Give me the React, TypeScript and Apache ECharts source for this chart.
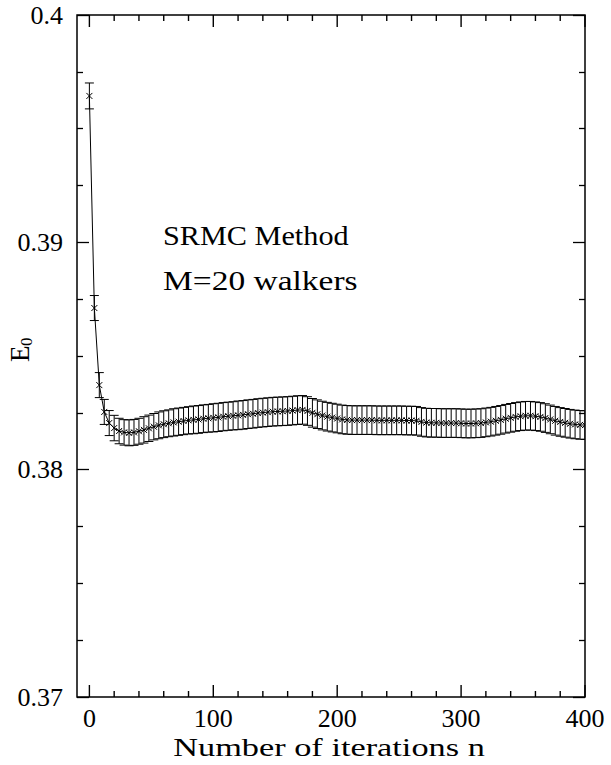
import React, { useEffect, useRef } from "react";
import * as echarts from "echarts";

const iterations = [
  0, 4, 8, 12, 16, 20, 24, 28, 32, 36, 40, 44, 48, 52, 56, 60, 64, 68, 72, 76,
  80, 84, 88, 92, 96, 100, 104, 108, 112, 116, 120, 124, 128, 132, 136, 140,
  144, 148, 152, 156, 160, 164, 168, 172, 176, 180, 184, 188, 192, 196, 200,
  204, 208, 212, 216, 220, 224, 228, 232, 236, 240, 244, 248, 252, 256, 260,
  264, 268, 272, 276, 280, 284, 288, 292, 296, 300, 304, 308, 312, 316, 320,
  324, 328, 332, 336, 340, 344, 348, 352, 356, 360, 364, 368, 372, 376, 380,
  384, 388, 392, 396, 400,
];

const energies = [
  0.39644, 0.38711, 0.38372, 0.38254, 0.38205, 0.38183, 0.3817, 0.38164,
  0.38162, 0.38164, 0.38169, 0.38175, 0.38182, 0.38189, 0.38195, 0.382,
  0.38204, 0.38208, 0.38211, 0.38214, 0.38217, 0.38219, 0.38221, 0.38224,
  0.38226, 0.38228, 0.3823, 0.38233, 0.38235, 0.38237, 0.38239, 0.38241,
  0.38244, 0.38246, 0.38249, 0.38251, 0.38253, 0.38255, 0.38256, 0.38257,
  0.38258, 0.3826, 0.38262, 0.38263, 0.38258, 0.3825, 0.38244, 0.38238,
  0.38233, 0.38229, 0.38225, 0.38221, 0.38219, 0.38218, 0.38218, 0.38218,
  0.38218, 0.38218, 0.38217, 0.38217, 0.38217, 0.38217, 0.38217, 0.38217,
  0.38216, 0.38216, 0.38215, 0.3821, 0.38207, 0.38206, 0.38206, 0.38205,
  0.38205, 0.38205, 0.38205, 0.38204, 0.38203, 0.38203, 0.38204, 0.38205,
  0.38208, 0.38211, 0.38215, 0.38219, 0.38224, 0.38228, 0.38232, 0.38235,
  0.38237, 0.38237, 0.38235, 0.38232, 0.38227, 0.38221, 0.38215, 0.3821,
  0.38206, 0.38202, 0.38199, 0.38197, 0.38196,
];

const errors = [
  0.00057, 0.00055, 0.00055, 0.00055, 0.00055, 0.00056, 0.00056, 0.00056,
  0.00057, 0.00057, 0.00057, 0.00058, 0.00058, 0.00058, 0.00059, 0.00059,
  0.00059, 0.0006, 0.0006, 0.0006, 0.0006, 0.00061, 0.00061, 0.00061,
  0.00061, 0.00062, 0.00062, 0.00062, 0.00062, 0.00062, 0.00063, 0.00063,
  0.00063, 0.00063, 0.00063, 0.00063, 0.00063, 0.00063, 0.00063, 0.00063,
  0.00063, 0.00063, 0.00063, 0.00063, 0.00063, 0.00063, 0.00063, 0.00063,
  0.00063, 0.00063, 0.00063, 0.00063, 0.00063, 0.00063, 0.00063, 0.00063,
  0.00063, 0.00063, 0.00063, 0.00063, 0.00063, 0.00063, 0.00063, 0.00063,
  0.00063, 0.00063, 0.00063, 0.00063, 0.00063, 0.00063, 0.00063, 0.00063,
  0.00063, 0.00063, 0.00063, 0.00063, 0.00063, 0.00063, 0.00063, 0.00063,
  0.00063, 0.00063, 0.00063, 0.00063, 0.00063, 0.00063, 0.00063, 0.00063,
  0.00063, 0.00063, 0.00063, 0.00063, 0.00063, 0.00063, 0.00063, 0.00063,
  0.00063, 0.00063, 0.00063, 0.00063, 0.00063,
];

const xMajorTicks = [0, 100, 200, 300, 400];
const xMinorTicks = [
  20, 40, 60, 80, 120, 140, 160, 180, 220, 240, 260, 280, 320, 340, 360, 380,
];

const xTitle = "Number of iterations n";
const annotation1 = "SRMC Method";
const annotation2 = "M=20 walkers";

const FONT = "'Liberation Serif', 'DejaVu Serif', serif";

export default function App() {
  const ref = useRef<HTMLDivElement>(null);

  useEffect(() => {
    if (!ref.current) return;
    const chart = echarts.init(ref.current, null, { renderer: "svg" });

    const data = iterations.map((n, i) => [n, energies[i], errors[i]]);
    const lineData = iterations.map((n, i) => [n, energies[i]]);

    const X_MIN = -10;
    const X_MAX = 400;
    const Y_MIN = 0.37;
    const Y_MAX = 0.4;

    const MAJOR_LEN = 12;
    const MINOR_LEN = 6;
    const tickData = [...xMajorTicks, ...xMinorTicks].map((v) => [v, Y_MIN]);

    const noLine = { show: false, onZero: false };
    const tickStyle = { color: "#000", width: 1.3 };

    const option: any = {
      animation: false,
      backgroundColor: "#fff",
      grid: {
        left: 77,
        right: 26,
        top: 15,
        bottom: 68,
        containLabel: false,
        show: true,
        borderColor: "#000",
        borderWidth: 1.5,
        backgroundColor: "transparent",
      },
      xAxis: [
        {
          type: "value",
          min: X_MIN,
          max: X_MAX,
          position: "bottom",
          splitLine: { show: false },
          axisLine: noLine,
          axisTick: { show: false },
          axisLabel: {
            show: true,
            customValues: xMajorTicks,
            color: "#000",
            fontFamily: FONT,
            fontSize: 26,
            margin: 8,
          },
        },
      ],
      yAxis: [
        {
          type: "value",
          position: "left",
          min: Y_MIN,
          max: Y_MAX,
          interval: 0.01,
          splitLine: { show: false },
          axisLine: noLine,
          axisTick: {
            show: true,
            inside: true,
            length: MAJOR_LEN,
            lineStyle: tickStyle,
          },
          minorTick: {
            show: true,
            splitNumber: 4,
            length: MINOR_LEN,
            lineStyle: tickStyle,
          },
          minorSplitLine: { show: false },
          axisLabel: {
            color: "#000",
            fontFamily: FONT,
            fontSize: 26,
            margin: 14,
            formatter: (v: number) => String(Math.round(v * 100) / 100),
          },
        },
        {
          type: "value",
          position: "right",
          min: Y_MIN,
          max: Y_MAX,
          interval: 0.01,
          splitLine: { show: false },
          axisLine: noLine,
          axisTick: {
            show: true,
            inside: true,
            length: MAJOR_LEN,
            lineStyle: tickStyle,
          },
          minorTick: {
            show: true,
            splitNumber: 4,
            length: MINOR_LEN,
            lineStyle: tickStyle,
          },
          minorSplitLine: { show: false },
          axisLabel: { show: false },
        },
      ],
      series: [
        {
          type: "custom",
          name: "xticks",
          xAxisIndex: 0,
          yAxisIndex: 0,
          data: tickData,
          clip: false,
          silent: true,
          encode: { x: 0, y: 1 },
          z: 4,
          renderItem: (params: any, api: any) => {
            const v = api.value(0);
            const len = xMajorTicks.indexOf(v) >= 0 ? MAJOR_LEN : MINOR_LEN;
            const bottom = api.coord([v, Y_MIN]);
            const top = api.coord([v, Y_MAX]);
            const w = 1.4;
            const style = { fill: "#000" };
            return {
              type: "group",
              children: [
                { type: "rect", shape: { x: bottom[0] - w / 2, y: bottom[1] - len, width: w, height: len }, style },
                { type: "rect", shape: { x: top[0] - w / 2, y: top[1], width: w, height: len }, style },
              ],
            };
          },
        },
        {
          type: "line",
          xAxisIndex: 0,
          yAxisIndex: 0,
          data: lineData,
          symbol: "none",
          lineStyle: { color: "#000", width: 1 },
          silent: true,
          z: 2,
        },
        {
          type: "custom",
          xAxisIndex: 0,
          yAxisIndex: 0,
          data,
          clip: true,
          encode: { x: 0, y: 1 },
          z: 3,
          renderItem: (params: any, api: any) => {
            const x = api.value(0);
            const y = api.value(1);
            const e = api.value(2);
            const top = api.coord([x, y + e]);
            const bot = api.coord([x, y - e]);
            const c = api.coord([x, y]);
            const w = 4.5;
            const s = 3;
            const style = { stroke: "#000", lineWidth: 1, fill: "none" };
            return {
              type: "group",
              children: [
                { type: "line", shape: { x1: top[0], y1: top[1], x2: bot[0], y2: bot[1] }, style },
                { type: "line", shape: { x1: top[0] - w, y1: top[1], x2: top[0] + w, y2: top[1] }, style },
                { type: "line", shape: { x1: bot[0] - w, y1: bot[1], x2: bot[0] + w, y2: bot[1] }, style },
                { type: "line", shape: { x1: c[0] - s, y1: c[1] - s, x2: c[0] + s, y2: c[1] + s }, style },
                { type: "line", shape: { x1: c[0] - s, y1: c[1] + s, x2: c[0] + s, y2: c[1] - s }, style },
              ],
            };
          },
        },
      ],
      graphic: [
        {
          type: "text",
          x: 163,
          y: 236,
          scaleX: 1.12,
          style: {
            text: annotation1,
            fill: "#000",
            font: `27px ${FONT}`,
            textAlign: "left",
            textVerticalAlign: "middle",
          },
        },
        {
          type: "text",
          x: 163,
          y: 281,
          scaleX: 1.24,
          style: {
            text: annotation2,
            fill: "#000",
            font: `27px ${FONT}`,
            textAlign: "left",
            textVerticalAlign: "middle",
          },
        },
        {
          type: "text",
          x: 329,
          y: 747,
          scaleX: 1.32,
          style: {
            text: xTitle,
            fill: "#000",
            font: `26px ${FONT}`,
            textAlign: "center",
            textVerticalAlign: "middle",
          },
        },
        {
          type: "group",
          x: 20,
          y: 362,
          rotation: Math.PI / 2,
          children: [
            {
              type: "text",
              x: 0,
              y: 0,
              style: {
                text: "E",
                fill: "#000",
                font: `27px ${FONT}`,
                textAlign: "left",
                textVerticalAlign: "middle",
              },
            },
            {
              type: "text",
              x: 16,
              y: 6,
              style: {
                text: "0",
                fill: "#000",
                font: `17px ${FONT}`,
                textAlign: "left",
                textVerticalAlign: "middle",
              },
            },
          ],
        },
      ],
    };

    chart.setOption(option);
    return () => chart.dispose();
  }, []);

  return (
    <div
      ref={ref}
      style={{ position: "fixed", left: 0, top: 0, width: 611, height: 765, background: "#fff" }}
    />
  );
}
